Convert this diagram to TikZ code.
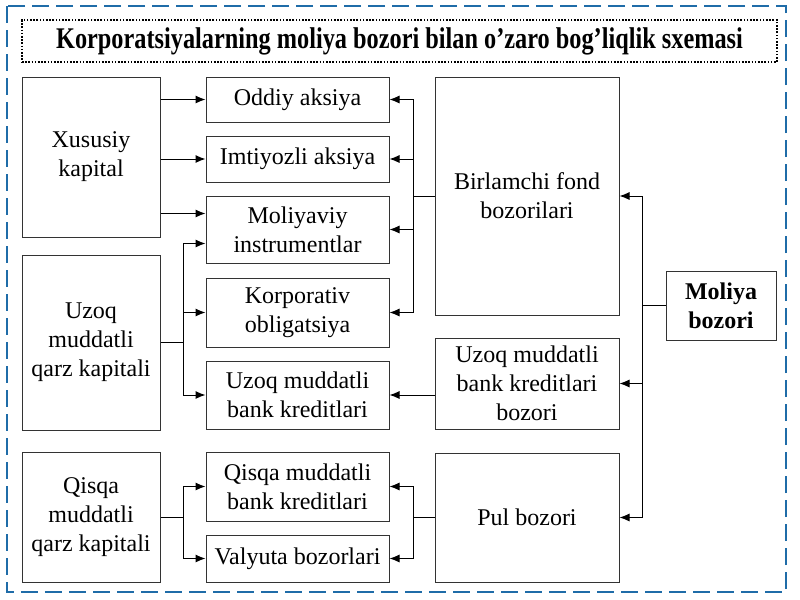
\documentclass[tikz,border=0pt]{standalone}
\usepackage{fontspec}
\setmainfont{Liberation Serif}
\newfontfamily\titlefont{Liberation Serif}[FakeStretch=0.81]
\usetikzlibrary{arrows,arrows.meta,positioning}
\definecolor{frameblue}{RGB}{31,108,168}
\tikzset{every picture/.style={line width=0.5pt}}
\tikzset{font=\fontsize{12}{14.5}\selectfont}
\tikzstyle{box}=[draw=black!80,rectangle,align=center,inner sep=0pt]
\tikzstyle{arr}=[->,>={Latex[length=5pt,width=4pt]}]

\begin{document}
\begin{tikzpicture}[x=0.5pt,y=-0.5pt]
\useasboundingbox (0,0) rectangle (800,600);
\fill[white] (0,0) rectangle (800,600);
\draw[frameblue,line width=1.3pt,dash pattern=on 8.5pt off 3.5pt] (7,6) rectangle (786,592);
\node (T) at (399.5,41) [draw,line width=1pt,dash pattern=on 0.8pt off 0.8pt,minimum width=377.5pt,minimum height=21pt,inner sep=0pt] {\titlefont\bfseries\fontsize{15}{18}\selectfont Korporatsiyalarning moliya bozori bilan o’zaro bog’liqlik sxemasi};
% kapital
\node[box,minimum width=69pt,minimum height=80pt] (A) at (91,157) {Xususiy\\kapital};
\node[box,minimum width=69pt,minimum height=87.5pt] (B) at (91,342.5) {Uzoq\\muddatli\\qarz kapitali};
\node[box,minimum width=69pt,minimum height=65pt] (C) at (91,517) {Qisqa\\muddatli\\qarz kapitali};
% instrumentlar
\node[box,minimum width=91.5pt,minimum height=22.5pt] (D) at (297.5,99.5) {Oddiy aksiya};
\node[box,minimum width=91.5pt,minimum height=23pt] (E) at (297.5,159) {Imtiyozli aksiya};
\node[box,minimum width=91.5pt,minimum height=33.5pt] (F) at (297.5,229.5) {Moliyaviy\\instrumentlar};
\node[box,minimum width=91.5pt,minimum height=34.5pt] (G) at (297.5,312.5) {Korporativ\\obligatsiya};
\node[box,minimum width=91.5pt,minimum height=34pt] (H) at (297.5,395) {Uzoq muddatli\\bank kreditlari};
\node[box,minimum width=91.5pt,minimum height=34.5pt] (I) at (297.5,486.5) {Qisqa muddatli\\bank kreditlari};
\node[box,minimum width=91.5pt,minimum height=23.5pt] (J) at (297.5,558.5) {Valyuta bozorlari};
% bozorlar
\node[box,minimum width=92pt,minimum height=119pt] (K) at (527,196) {Birlamchi fond\\bozorilari};
\node[box,minimum width=92pt,minimum height=45.5pt] (L) at (527,383.5) {Uzoq muddatli\\bank kreditlari\\bozori};
\node[box,minimum width=92pt,minimum height=64.5pt] (M) at (527,517.5) {Pul bozori};
\node[box,minimum width=55pt,minimum height=34.5pt,font=\bfseries\fontsize{12}{14.5}\selectfont] (N) at (721,305.5) {Moliya\\bozori};
\coordinate (P) at (183,0);
\coordinate (Q) at (413,0);
\coordinate (R) at (642,0);
\path[arr]
(A.east |- D.west) edge (D.west)
(A.east |- E.west) edge (E.west)
([yshift=8pt]F.west -| A.east) edge ([yshift=8pt]F.west)
(L.west |- H.east) edge (H.east);
% Uzoq muddatli qarz kapitali
\draw (B.east) -- (B.east -| P);
\draw[arr] (B.east -| P) |- ([yshift=-7pt]F.west);
\draw[arr] (B.east -| P) |- (G.west);
\draw[arr] (B.east -| P) |- (H.west);
% Qisqa muddatli qarz kapitali
\draw (C.east) -- (C.east -| P);
\draw[arr] (C.east -| P) |- (I.west);
\draw[arr] (C.east -| P) |- (J.west);
% Birlamchi fond bozorilari
\draw (K.west) -- (K.west -| Q);
\draw[arr] (K.west -| Q) |- (D.east);
\draw[arr] (K.west -| Q) |- (E.east);
\draw[arr] (K.west -| Q) |- (F.east);
\draw[arr] (K.west -| Q) |- (G.east);
% Pul bozori
\draw (M.west) -- (M.west -| Q);
\draw[arr] (M.west -| Q) |- (I.east);
\draw[arr] (M.west -| Q) |- (J.east);
% Moliya bozori
\draw (N.west) -- (N.west -| R);
\draw[arr] (N.west -| R) |- (K.east);
\draw[arr] (N.west -| R) |- (L.east);
\draw[arr] (N.west -| R) |- (M.east);
\end{tikzpicture}
\end{document}
